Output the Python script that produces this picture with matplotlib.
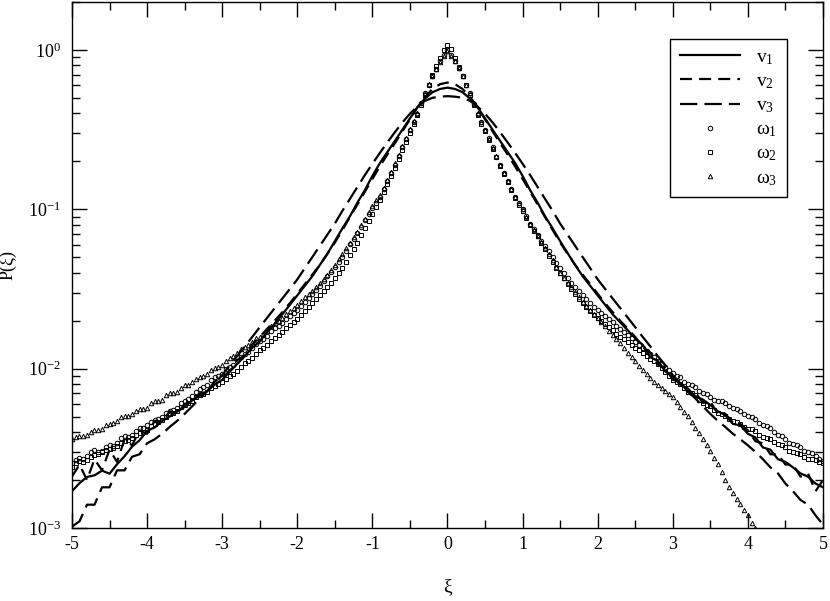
import matplotlib
matplotlib.use("Agg")
import matplotlib.pyplot as plt
import numpy as np
from matplotlib.ticker import FixedLocator, FuncFormatter, LogLocator, MultipleLocator, NullFormatter

nan = np.nan

# bin centres: velocity histograms in steps of 0.1, vorticity histograms in steps of 0.05
XI_V = np.round(np.linspace(-5.0, 5.0, 101), 2)
XI_W = np.round(np.linspace(-5.0, 5.0, 201), 2)

# velocity components (lines)
V1 = [0.00170, 0.00191, 0.00209, 0.00214, 0.00229, 0.00219, 0.00251, 0.00282, 0.00324, 0.00355,
      0.00407, 0.00427, 0.00468, 0.00501, 0.00537, 0.00575, 0.00631, 0.00676, 0.00724, 0.00794,
      0.00851, 0.00955, 0.0107, 0.0120, 0.0135, 0.0148, 0.0170, 0.0191, 0.0219, 0.0251,
      0.0288, 0.0331, 0.0380, 0.0447, 0.0525, 0.0631, 0.0759, 0.0902, 0.110, 0.132,
      0.162, 0.195, 0.229, 0.269, 0.316, 0.372, 0.437, 0.495, 0.543, 0.569,
      0.580, 0.569, 0.543, 0.495, 0.437, 0.372, 0.316, 0.269, 0.229, 0.195,
      0.162, 0.132, 0.110, 0.0902, 0.0759, 0.0631, 0.0530, 0.0447, 0.0380, 0.0331,
      0.0288, 0.0251, 0.0219, 0.0195, 0.0174, 0.0155, 0.0141, 0.0118, 0.0112, 0.0096,
      0.0089, 0.0079, 0.0075, 0.0067, 0.0064, 0.0059, 0.0054, 0.0051, 0.0045, 0.0044,
      0.0039, 0.0037, 0.0032, 0.0031, 0.0027, 0.0026, 0.0024, 0.0022, 0.0021, 0.0019,
      0.0018]
V2 = [0.0021, 0.0025, 0.0020, 0.0027, 0.0023, 0.0031, 0.0026, 0.0036, 0.0033, 0.0041,
      0.0039, 0.0047, 0.0046, 0.0054, 0.0052, 0.0060, 0.0062, 0.0070, 0.0072, 0.0083,
      0.0088, 0.0096, 0.0113, 0.0121, 0.0142, 0.0158, 0.0178, 0.0200, 0.0226, 0.0257,
      0.0295, 0.0339, 0.0389, 0.0447, 0.0525, 0.0617, 0.0741, 0.0891, 0.107, 0.129,
      0.155, 0.186, 0.221, 0.260, 0.309, 0.367, 0.437, 0.507, 0.569, 0.610,
      0.624, 0.610, 0.569, 0.507, 0.437, 0.367, 0.309, 0.260, 0.221, 0.186,
      0.155, 0.129, 0.107, 0.0891, 0.0741, 0.0617, 0.0525, 0.0447, 0.0389, 0.0339,
      0.0295, 0.0257, 0.0226, 0.0200, 0.0178, 0.0158, 0.0136, 0.0126, 0.0106, 0.0101,
      0.0085, 0.0083, 0.0071, 0.0071, 0.0061, 0.0062, 0.0052, 0.0052, 0.0046, 0.0045,
      0.0041, 0.0035, 0.0034, 0.0029, 0.0029, 0.0025, 0.0025, 0.0021, 0.0022, 0.0017,
      0.0020]
V3 = [0.00102, 0.0011, 0.0014, 0.0014, 0.0018, 0.0018, 0.0023, 0.0023, 0.0028, 0.0029,
      0.0034, 0.0036, 0.0039, 0.0043, 0.0047, 0.0052, 0.0058, 0.0065, 0.0072, 0.0081,
      0.0091, 0.0105, 0.0120, 0.0138, 0.0158, 0.0182, 0.0209, 0.0240, 0.0275, 0.0316,
      0.0363, 0.0427, 0.0501, 0.0589, 0.0692, 0.0813, 0.0977, 0.116, 0.138, 0.164,
      0.193, 0.226, 0.263, 0.305, 0.351, 0.398, 0.442, 0.479, 0.501, 0.509,
      0.513, 0.509, 0.501, 0.479, 0.442, 0.398, 0.351, 0.305, 0.263, 0.226,
      0.193, 0.164, 0.138, 0.116, 0.0977, 0.0813, 0.0692, 0.0589, 0.0501, 0.0427,
      0.0363, 0.0316, 0.0275, 0.0240, 0.0209, 0.0182, 0.0158, 0.0138, 0.0120, 0.0105,
      0.0091, 0.0081, 0.0072, 0.0065, 0.0058, 0.0052, 0.0047, 0.0043, 0.0039, 0.0036,
      0.0033, 0.0030, 0.0027, 0.0024, 0.0022, 0.0019, 0.0017, 0.0015, 0.0014, 0.0012,
      0.00105]

# vorticity components (markers)
W1 = [0.00257, 0.00268, 0.00275, 0.00270, 0.00281, 0.00298, 0.00309, 0.00300, 0.00302, 0.00322,
      0.00331, 0.00328, 0.00340, 0.00365, 0.00380, 0.00372, 0.00385, 0.00408, 0.00422, 0.00425,
      0.00440, 0.00462, 0.00475, 0.00480, 0.00495, 0.00525, 0.00545, 0.00552, 0.00570, 0.00605,
      0.00625, 0.00645, 0.00670, 0.00715, 0.00750, 0.00762, 0.00790, 0.00845, 0.00880, 0.00895,
      0.00925, 0.00990, 0.0103, 0.0106, 0.0111, 0.0119, 0.0124, 0.0128, 0.0134, 0.0143,
      0.0149, 0.0154, 0.0161, 0.0172, 0.0179, 0.0185, 0.0194, 0.0206, 0.0215, 0.0224,
      0.0234, 0.0249, 0.0263, 0.0278, 0.0295, 0.0312, 0.0331, 0.0355, 0.0380, 0.0407,
      0.0437, 0.0468, 0.0501, 0.0550, 0.0603, 0.0653, 0.0708, 0.0776, 0.0851, 0.0932,
      0.102, 0.110, 0.120, 0.135, 0.151, 0.170, 0.191, 0.216, 0.245, 0.278,
      0.316, 0.355, 0.398, 0.462, 0.537, 0.605, 0.684, 0.760, 0.851, 0.930,
      1.00, 0.925, 0.851, 0.765, 0.684, 0.600, 0.537, 0.460, 0.398, 0.352,
      0.316, 0.280, 0.245, 0.214, 0.191, 0.168, 0.151, 0.134, 0.120, 0.109,
      0.100, 0.0905, 0.0813, 0.0748, 0.0692, 0.0636, 0.0589, 0.0545, 0.0501, 0.0462,
      0.0427, 0.0398, 0.0372, 0.0346, 0.0324, 0.0306, 0.0288, 0.0272, 0.0257, 0.0245,
      0.0234, 0.0224, 0.0214, 0.0205, 0.0195, 0.0186, 0.0178, 0.0170, 0.0162, 0.0155,
      0.0148, 0.0141, 0.0135, 0.0129, 0.0123, 0.0118, 0.0112, 0.0107, 0.0102, 0.00975,
      0.00933, 0.00905, 0.00880, 0.00830, 0.00805, 0.00790, 0.00765, 0.00720, 0.00700, 0.00690,
      0.00668, 0.00640, 0.00625, 0.00628, 0.00610, 0.00585, 0.00570, 0.00560, 0.00545, 0.00520,
      0.00505, 0.00500, 0.00485, 0.00455, 0.00440, 0.00438, 0.00425, 0.00398, 0.00383, 0.00378,
      0.00360, 0.00342, 0.00335, 0.00332, 0.00320, 0.00305, 0.00298, 0.00295, 0.00285, 0.00270,
      0.00263]
W2 = [0.00240, 0.00255, 0.00262, 0.00258, 0.00266, 0.00280, 0.00288, 0.00290, 0.00298, 0.00310,
      0.00315, 0.00318, 0.00327, 0.00343, 0.00352, 0.00356, 0.00368, 0.00385, 0.00395, 0.00400,
      0.00412, 0.00435, 0.00452, 0.00460, 0.00473, 0.00500, 0.00520, 0.00528, 0.00545, 0.00575,
      0.00595, 0.00605, 0.00625, 0.00660, 0.00682, 0.00695, 0.00718, 0.00755, 0.00782, 0.00800,
      0.00825, 0.00865, 0.00898, 0.00930, 0.00970, 0.0103, 0.0108, 0.0111, 0.0116, 0.0124,
      0.0130, 0.0134, 0.0140, 0.0150, 0.0156, 0.0162, 0.0169, 0.0179, 0.0187, 0.0195,
      0.0204, 0.0216, 0.0229, 0.0243, 0.0257, 0.0272, 0.0288, 0.0305, 0.0324, 0.0347,
      0.0372, 0.0398, 0.0427, 0.0468, 0.0513, 0.0562, 0.0617, 0.0685, 0.0759, 0.0840,
      0.0933, 0.103, 0.115, 0.129, 0.145, 0.162, 0.182, 0.206, 0.234, 0.265,
      0.302, 0.342, 0.389, 0.450, 0.525, 0.605, 0.692, 0.790, 0.891, 1.00,
      1.08, 1.01, 0.890, 0.785, 0.690, 0.600, 0.525, 0.452, 0.390, 0.345,
      0.310, 0.272, 0.240, 0.212, 0.188, 0.167, 0.148, 0.132, 0.118, 0.107,
      0.0977, 0.0880, 0.0794, 0.0730, 0.0676, 0.0615, 0.0562, 0.0512, 0.0468, 0.0430,
      0.0398, 0.0368, 0.0339, 0.0316, 0.0295, 0.0275, 0.0257, 0.0242, 0.0229, 0.0218,
      0.0209, 0.0200, 0.0191, 0.0182, 0.0174, 0.0166, 0.0158, 0.0153, 0.0148, 0.0141,
      0.0135, 0.0131, 0.0126, 0.0120, 0.0115, 0.0111, 0.0107, 0.0101, 0.00955, 0.00895,
      0.00851, 0.00830, 0.00800, 0.00755, 0.00718, 0.00700, 0.00682, 0.00640, 0.00610, 0.00595,
      0.00580, 0.00548, 0.00530, 0.00520, 0.00508, 0.00485, 0.00472, 0.00465, 0.00452, 0.00432,
      0.00420, 0.00415, 0.00405, 0.00385, 0.00375, 0.00368, 0.00360, 0.00345, 0.00335, 0.00330,
      0.00320, 0.00305, 0.00298, 0.00296, 0.00292, 0.00278, 0.00270, 0.00270, 0.00266, 0.00258,
      0.00257]
W3 = [0.00363, 0.00372, 0.00378, 0.00376, 0.00385, 0.00400, 0.00412, 0.00410, 0.00420, 0.00440,
      0.00452, 0.00455, 0.00472, 0.00495, 0.00508, 0.00505, 0.00518, 0.00545, 0.00558, 0.00556,
      0.00570, 0.00605, 0.00625, 0.00625, 0.00640, 0.00680, 0.00700, 0.00702, 0.00718, 0.00760,
      0.00785, 0.00795, 0.00825, 0.00860, 0.00880, 0.00895, 0.00925, 0.00985, 0.0101, 0.0103,
      0.0106, 0.0112, 0.0116, 0.0120, 0.0125, 0.0132, 0.0136, 0.0141, 0.0147, 0.0155,
      0.0159, 0.0165, 0.0173, 0.0185, 0.0192, 0.0199, 0.0208, 0.0221, 0.0230, 0.0240,
      0.0251, 0.0267, 0.0282, 0.0295, 0.0309, 0.0327, 0.0347, 0.0366, 0.0389, 0.0417,
      0.0447, 0.0485, 0.0525, 0.0570, 0.0617, 0.0668, 0.0724, 0.0795, 0.0871, 0.0960,
      0.105, 0.114, 0.123, 0.137, 0.153, 0.172, 0.194, 0.219, 0.248, 0.282,
      0.320, 0.358, 0.400, 0.465, 0.540, 0.610, 0.690, 0.760, 0.840, 0.920,
      0.980, 0.915, 0.850, 0.768, 0.690, 0.605, 0.540, 0.462, 0.400, 0.355,
      0.315, 0.276, 0.243, 0.215, 0.190, 0.169, 0.150, 0.134, 0.120, 0.110,
      0.100, 0.0900, 0.0813, 0.0740, 0.0676, 0.0622, 0.0575, 0.0525, 0.0479, 0.0436,
      0.0398, 0.0372, 0.0347, 0.0323, 0.0302, 0.0281, 0.0263, 0.0248, 0.0234, 0.0221,
      0.0209, 0.0197, 0.0186, 0.0173, 0.0162, 0.0153, 0.0145, 0.0135, 0.0126, 0.0119,
      0.0112, 0.0104, 0.00977, 0.00920, 0.00871, 0.00830, 0.00794, 0.00760, 0.00724, 0.00690,
      0.00661, 0.00615, 0.00575, 0.00538, 0.00501, 0.00465, 0.00427, 0.00395, 0.00363, 0.00330,
      0.00302, 0.00275, 0.00251, 0.00225, 0.00200, 0.00182, 0.00166, 0.00152, 0.00141, 0.00130,
      0.00120, 0.00108, 0.00100, nan, nan, nan, nan, nan, nan, nan,
      nan, nan, nan, nan, nan, nan, nan, nan, nan, nan,
      nan]

LINE_LABELS = ["v$_1$", "v$_2$", "v$_3$"]
MARK_LABELS = ["ω$_1$", "ω$_2$", "ω$_3$"]
XTICKS = [-5, -4, -3, -2, -1, 0, 1, 2, 3, 4, 5]
YTICKS = [1e-3, 1e-2, 1e-1, 1e0]


plt.rcParams.update({
    "font.family": ["Liberation Serif", "DejaVu Serif"],
    "font.size": 13,
    "mathtext.fontset": "custom",
    "mathtext.rm": "Liberation Serif",
    "mathtext.it": "Liberation Serif:italic",
    "mathtext.bf": "Liberation Serif:bold",
    "axes.unicode_minus": False,
    "axes.linewidth": 1.0,
    "xtick.direction": "in",
    "ytick.direction": "in",
    "xtick.top": True,
    "ytick.right": True,
})

fig = plt.figure(figsize=(8.3, 6.01), dpi=100)
ax = fig.add_axes([0.0867, 0.1215, 0.9049, 0.8752])

lw = 1.6
ax.plot(XI_V, V1, color="black", lw=lw, ls="-", label=LINE_LABELS[0])
ax.plot(XI_V, V2, color="black", lw=lw, ls=(0, (5.4, 3.2)), label=LINE_LABELS[1])
ax.plot(XI_V, V3, color="black", lw=lw, ls=(0, (7.8, 3.2)), label=LINE_LABELS[2])

mk = dict(ls="none", mfc="none", mec="black", mew=0.7)
ax.plot(XI_W, W1, marker="o", ms=3.2, label=MARK_LABELS[0], **mk)
ax.plot(XI_W, W2, marker="s", ms=3.0, label=MARK_LABELS[1], **mk)
ax.plot(XI_W, W3, marker="^", ms=3.2, label=MARK_LABELS[2], **mk)

ax.set_yscale("log")
ax.set_xlim(-5, 5)
ax.set_ylim(1e-3, 2.0)

ax.xaxis.set_major_locator(FixedLocator(XTICKS))
ax.xaxis.set_minor_locator(MultipleLocator(0.5))
ax.yaxis.set_major_locator(FixedLocator(YTICKS))
ax.yaxis.set_minor_locator(LogLocator(base=10, subs=np.arange(2, 10)))
ax.yaxis.set_minor_formatter(NullFormatter())
ax.xaxis.set_major_formatter(FuncFormatter(lambda v, p: f"{v:.0f}"))
ax.yaxis.set_major_formatter(
    FuncFormatter(lambda v, p: r"$\mathregular{10^{%d}}$" % int(round(np.log10(v)))))

ax.tick_params(which="major", length=11, width=1.0, labelsize=13)
ax.tick_params(which="minor", length=5.5, width=1.0)
ax.tick_params(axis="x", which="major", pad=6)
ax.tick_params(axis="y", which="major", pad=8)

ax.set_xlabel("ξ", fontsize=14, labelpad=18)
ax.set_ylabel("P(ξ)", fontsize=13, labelpad=8)

leg = ax.legend(loc="upper right", bbox_to_anchor=(0.952, 0.930), borderaxespad=0,
                frameon=True, fancybox=False, edgecolor="black", framealpha=1,
                fontsize=14, handlelength=3.1, handletextpad=0.8, labelspacing=0.3,
                borderpad=0.5)
leg.get_frame().set_linewidth(1.0)

fig.savefig("out.png", dpi=100)
